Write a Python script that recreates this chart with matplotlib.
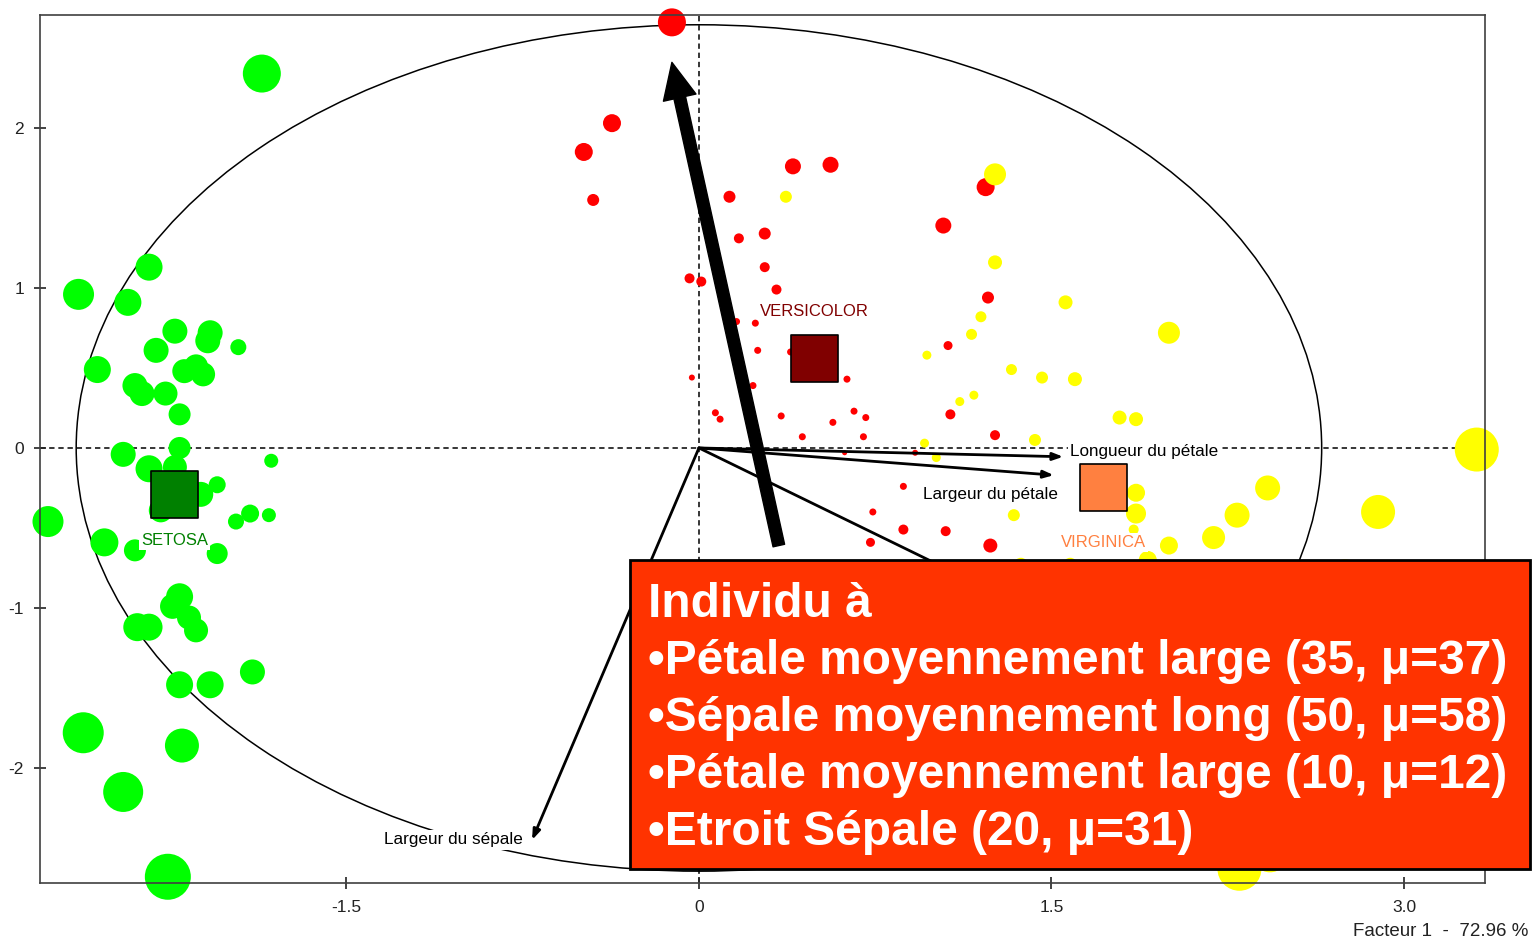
import matplotlib
matplotlib.use("Agg")
import matplotlib.pyplot as plt
from matplotlib.patches import Ellipse, Rectangle
import numpy as np

plt.rcParams["font.family"] = ["Liberation Sans", "DejaVu Sans"]
plt.rcParams["axes.unicode_minus"] = False

# Individuals: factor 1 / factor 2 coordinates and marker diameters (px)
setosa_x = [-1.86, -2.64, -2.34, -2.43, -2.23, -2.08, -2.09, -2.31, -1.96, -2.56,
            -2.40, -2.37, -2.27, -2.19, -2.14, -2.11, -2.21, -2.21, -2.45, -1.82,
            -2.34, -2.23, -2.12, -2.05, -2.77, -1.97, -1.91, -1.83, -2.53, -2.40,
            -2.05, -2.21, -2.24, -2.17, -2.14, -2.39, -2.34, -1.90, -2.21, -2.08,
            -2.62, -2.20, -2.45, -2.26, -2.23, -2.29]
setosa_y = [2.34, 0.96, 1.13, 0.91, 0.73, 0.72, 0.67, 0.61, 0.63, 0.49,
            0.39, 0.34, 0.34, 0.48, 0.51, 0.46, 0.21, 0.00, -0.04, -0.08,
            -0.13, -0.12, -0.29, -0.23, -0.46, -0.46, -0.41, -0.42, -0.59, -0.64,
            -0.66, -0.93, -0.99, -1.06, -1.14, -1.12, -1.12, -1.40, -1.48, -1.48,
            -1.78, -1.86, -2.15, -2.68, -0.36, -0.39]
setosa_d = [38, 31, 27, 27, 25, 25, 25, 25, 16, 27,
            25, 25, 24, 24, 24, 24, 22, 22, 25, 14,
            27, 24, 25, 17, 31, 16, 18, 14, 28, 22,
            21, 27, 25, 24, 24, 28, 27, 25, 27, 27,
            41, 34, 40, 46, 25, 24]

versicolor_x = [-0.115, -0.37, -0.49, -0.45, 0.40, 0.56, 0.13, 1.22, 1.04, 0.17,
                0.28, 0.28, -0.04, 0.01, 0.33, 1.23, 1.06, 0.24, 0.16, 0.25,
                0.39, 0.63, -0.03, 0.23, 0.07, 0.09, 0.35, 0.66, 0.71, 0.57,
                0.44, 0.70, 1.07, 1.26, 0.62, 0.92, 0.87, 0.74, 0.87, 1.05,
                0.73, 1.24]
versicolor_y = [2.66, 2.03, 1.85, 1.55, 1.76, 1.77, 1.57, 1.63, 1.39, 1.31,
                1.34, 1.13, 1.06, 1.04, 0.99, 0.94, 0.64, 0.78, 0.79, 0.61,
                0.60, 0.43, 0.44, 0.39, 0.22, 0.18, 0.20, 0.23, 0.19, 0.16,
                0.07, 0.07, 0.21, 0.08, -0.03, -0.03, -0.24, -0.40, -0.51, -0.52,
                -0.59, -0.61]
versicolor_d = [28, 18, 18, 12, 16, 16, 12, 18, 16, 10,
                12, 10, 10, 10, 10, 12, 9, 7, 7, 7,
                7, 7, 6, 7, 7, 7, 7, 7, 7, 7,
                7, 7, 10, 10, 5, 6, 7, 7, 10, 10,
                9, 14]

virginica_x = [1.26, 0.37, 1.26, 1.20, 1.16, 1.56, 2.00, 0.97, 1.33, 1.46,
               1.60, 1.11, 1.17, 1.79, 1.86, 1.43, 0.96, 1.01, 3.31, 1.34,
               1.86, 1.86, 2.42, 2.29, 2.19, 2.00, 2.89, 1.85, 1.37, 1.58,
               1.91, 2.75, 2.30, 2.43]
virginica_y = [1.71, 1.57, 1.16, 0.82, 0.71, 0.91, 0.72, 0.58, 0.49, 0.44,
               0.43, 0.29, 0.33, 0.19, 0.18, 0.05, 0.03, -0.06, -0.01, -0.42,
               -0.28, -0.41, -0.25, -0.42, -0.56, -0.61, -0.40, -0.51, -0.73, -0.73,
               -0.70, -0.79, -2.63, -2.54]
virginica_d = [22, 12, 14, 11, 11, 14, 22, 9, 11, 12,
               14, 9, 9, 14, 14, 12, 9, 9, 44, 12,
               18, 20, 25, 25, 23, 18, 34, 10, 14, 14,
               18, 30, 44, 36]

# class centres
centre_names = ["SETOSA", "VERSICOLOR", "VIRGINICA"]
centre_x = [-2.23, 0.49, 1.72]
centre_y = [-0.29, 0.56, -0.25]
centre_colors = ["#008000", "#800000", "#FF8040"]
centre_label_y = [-0.58, 0.85, -0.59]

# variable vectors
var_names = ["Longueur du pétale", "Largeur du pétale", "Longueur du sépale", "Largeur du sépale"]
var_x = [1.55, 1.51, 1.62, -0.71]
var_y = [-0.055, -0.17, -1.16, -2.45]

box_lines = ["Individu à",
             "•Pétale moyennement large (35, μ=37)",
             "•Sépale moyennement long (50, μ=58)",
             "•Pétale moyennement large (10, μ=12)",
             "•Etroit Sépale (20, μ=31)"]

def sz(d):
    return (np.array(d) * 0.72) ** 2

white_bg = dict(fc="white", ec="none", pad=1.5)

fig = plt.figure(figsize=(15.36, 9.42), dpi=100)
ax = fig.add_axes([40 / 1536, 1 - 883 / 942, 1445 / 1536, 868 / 942])
ax.set_xlim(-2.804, 3.345)
ax.set_ylim(-2.719, 2.706)

# reference lines and circle
ax.axhline(0, color="black", lw=1.1, ls=(0, (3.5, 2.5)), zorder=1)
ax.axvline(0, color="black", lw=1.1, ls=(0, (3.5, 2.5)), zorder=1)
ax.add_patch(Ellipse((0, 0), 5.3, 5.29, fill=False, ec="black", lw=1.1, zorder=1.5))

# individuals
ax.scatter(setosa_x, setosa_y, s=sz(setosa_d), c="#00FF00", lw=0, zorder=2, clip_on=False)
ax.scatter(versicolor_x, versicolor_y, s=sz(versicolor_d), c="#FF0000", lw=0, zorder=2, clip_on=False)
ax.scatter(virginica_x, virginica_y, s=sz(virginica_d), c="#FFFF00", lw=0, zorder=2.1, clip_on=False)

# variable arrows
for vx, vy in zip(var_x, var_y):
    ax.annotate("", xy=(vx, vy), xytext=(0, 0),
                arrowprops=dict(arrowstyle="-|>,head_length=0.6,head_width=0.22",
                                color="black", lw=2.0, shrinkA=0, shrinkB=0),
                zorder=3)
ax.text(1.58, -0.025, var_names[0], ha="left", va="center", fontsize=12.3,
        bbox=white_bg, zorder=3.5)
ax.text(1.24, -0.29, var_names[1], ha="center", va="center", fontsize=12.3,
        bbox=white_bg, zorder=3.5)
ax.text(-0.75, -2.45, var_names[3], ha="right", va="center", fontsize=12.3,
        bbox=white_bg, zorder=3.5)

# class centres
ax.scatter(centre_x, centre_y, s=(47 * 0.72) ** 2, marker="s", c=centre_colors,
           edgecolors="black", linewidths=1.2, zorder=4)
for name, cx, ly, col in zip(centre_names, centre_x, centre_label_y, centre_colors):
    ax.text(cx, ly, name, ha="center", va="center", fontsize=12, color=col,
            bbox=white_bg, zorder=4)

# big pointer arrow
ax.annotate("", xy=(-0.115, 2.41), xytext=(0.34, -0.61),
            arrowprops=dict(facecolor="black", edgecolor="black", width=8.5,
                            headwidth=24, headlength=26, shrink=0),
            zorder=5)

# axes styling
ax.set_xticks([-1.5, 0, 1.5, 3.0])
ax.set_xticklabels(["-1.5", "0", "1.5", "3.0"])
ax.set_yticks([-2, -1, 0, 1, 2])
ax.tick_params(direction="inout", length=9, width=1.2, labelsize=12.5,
               colors="#222222")
ax.tick_params(axis="x", pad=8)
ax.tick_params(axis="y", pad=7)
for sp in ax.spines.values():
    sp.set_color("#404040")
    sp.set_linewidth(1.2)

fig.text(1528 / 1536, 1 - 931 / 942, "Facteur 1  -  72.96 %", ha="right",
         va="center", fontsize=13.5, color="#222222")

# annotation box
box = Rectangle((630 / 1536, 1 - 869 / 942), 900 / 1536, 309 / 942,
                transform=fig.transFigure, fc="#FF3300", ec="black", lw=2, zorder=10)
fig.add_artist(box)
for i, line in enumerate(box_lines):
    fig.text(648 / 1536, 1 - (617 + 57 * i) / 942, line, ha="left", va="baseline",
             fontsize=34.5, fontweight="bold", color="white", zorder=11)

fig.savefig("out.png", dpi=100)
